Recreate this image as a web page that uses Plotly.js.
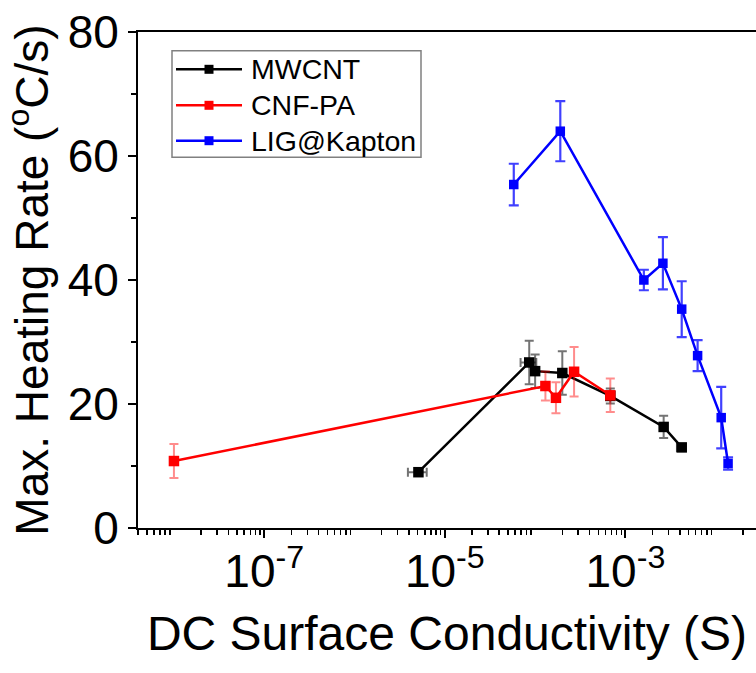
<!DOCTYPE html>
<html>
<head>
<meta charset="utf-8">
<script src="https://cdn.plot.ly/plotly-3.0.1.min.js"></script>
<style>html,body{margin:0;padding:0;background:#fff;}#chart{width:756px;height:673px;}</style>
</head>
<body>
<div id="chart"></div>
<script>
// ---- data ----
const mwcntX    = [5.1e-6, 8.6e-5, 1.0e-4, 2.0e-4, 6.8e-4, 2.65e-3, 4.2e-3];
const mwcntY    = [9.0, 26.7, 25.3, 25.0, 21.3, 16.3, 13.0];
const mwcntYErr = [0.4, 3.5, 2.7, 3.5, 1.2, 1.8, 0.5];
const mwcntXErr = [1.2e-6, 1.7e-5, 0, 0, 5.5e-5, 0, 4.8e-4];

const cnfX    = [1.0e-8, 1.3e-4, 1.7e-4, 2.7e-4, 6.8e-4];
const cnfY    = [10.8, 22.9, 21.0, 25.2, 21.4];
const cnfYErr = [2.75, 2.35, 2.5, 4.0, 2.7];

const ligX    = [5.8e-5, 1.9e-4, 1.6e-3, 2.6e-3, 4.2e-3, 6.3e-3, 1.15e-2, 1.37e-2];
const ligY    = [55.4, 64.0, 40.0, 42.7, 35.3, 27.8, 17.8, 10.4];
const ligYErr = [3.35, 4.85, 1.65, 4.2, 4.5, 2.5, 4.95, 1.0];

const seriesNames  = ['MWCNT', 'CNF-PA', 'LIG@Kapton'];
const seriesColors = ['#000000', '#ff0000', '#0000ff'];
const labeledExp   = [-7, -5, -3];
const labeledText  = ['10<sup>-7</sup>', '10<sup>-5</sup>', '10<sup>-3</sup>'];
const unlabeledExp = [-8, -6, -4, -2];

// ---- tick helpers ----
const xTickVals  = labeledExp.map(e => Math.pow(10, e));
const xTickVals2 = unlabeledExp.map(e => Math.pow(10, e));
const xMinorVals = [];
for (let e = -9; e <= -1; e++) {
  for (let m = 2; m <= 9; m++) xMinorVals.push(m * Math.pow(10, e));
}

const FONT = 'Arial, "Liberation Sans", Helvetica, sans-serif';
const X_RANGE = [-8.398, -1.554];

const traces = [
  {
    x: mwcntX, y: mwcntY, name: seriesNames[0], type: 'scatter', mode: 'lines+markers',
    line: {color: seriesColors[0], width: 2.5},
    marker: {symbol: 'square', size: 10.5, color: seriesColors[0]},
    error_y: {type: 'data', array: mwcntYErr, visible: true, color: 'rgba(0,0,0,0.55)', thickness: 2, width: 4.5},
    error_x: {type: 'data', array: mwcntXErr, visible: true, color: 'rgba(0,0,0,0.55)', thickness: 2, width: 4.5}
  },
  {
    x: cnfX, y: cnfY, name: seriesNames[1], type: 'scatter', mode: 'lines+markers',
    line: {color: seriesColors[1], width: 2.5},
    marker: {symbol: 'square', size: 10.5, color: seriesColors[1]},
    error_y: {type: 'data', array: cnfYErr, visible: true, color: 'rgba(255,0,0,0.45)', thickness: 2, width: 4.5}
  },
  {
    x: ligX, y: ligY, name: seriesNames[2], type: 'scatter', mode: 'lines+markers',
    line: {color: seriesColors[2], width: 2.5},
    marker: {symbol: 'square', size: 9.5, color: seriesColors[2]},
    error_y: {type: 'data', array: ligYErr, visible: true, color: 'rgba(0,0,255,0.75)', thickness: 2.2, width: 5}
  }
];

// ---- custom legend (paper coordinates) ----
const PLOT_L = 138, PLOT_R = 756, PLOT_T = 32, PLOT_B = 528;
const px2x = p => (p - PLOT_L) / (PLOT_R - PLOT_L);
const px2y = p => (PLOT_B - p) / (PLOT_B - PLOT_T);
const legRowsPx = [69.3, 105.3, 140.7];
const shapes = [{
  type: 'rect', xref: 'paper', yref: 'paper', layer: 'below',
  x0: px2x(172), x1: px2x(421), y0: px2y(157.3), y1: px2y(50.7),
  line: {color: '#808080', width: 1.5}, fillcolor: '#ffffff'
}];
const annotations = [];
legRowsPx.forEach((ry, i) => {
  shapes.push({
    type: 'line', xref: 'paper', yref: 'paper',
    x0: px2x(176), x1: px2x(242), y0: px2y(ry), y1: px2y(ry),
    line: {color: seriesColors[i], width: 2.5}
  });
  shapes.push({
    type: 'rect', xref: 'paper', yref: 'paper',
    x0: px2x(204.5), x1: px2x(213.5), y0: px2y(ry + 4.5), y1: px2y(ry - 4.5),
    line: {width: 0}, fillcolor: seriesColors[i]
  });
  annotations.push({
    xref: 'paper', yref: 'paper', x: px2x(249), y: px2y(ry),
    xanchor: 'left', yanchor: 'middle', showarrow: false,
    text: seriesNames[i], font: {family: FONT, size: 28.5, color: '#000000'}
  });
});

const layout = {
  width: 756, height: 673,
  margin: {l: PLOT_L, r: 756 - PLOT_R, t: PLOT_T, b: 673 - PLOT_B, pad: 0},
  paper_bgcolor: '#ffffff', plot_bgcolor: '#ffffff',
  font: {family: FONT, color: '#000000'},
  showlegend: false,
  shapes: shapes,
  annotations: annotations,
  xaxis: {
    type: 'log', range: X_RANGE,
    showline: true, linecolor: '#000000', linewidth: 2, mirror: true,
    showgrid: false, zeroline: false,
    ticks: 'outside', ticklen: 8, tickwidth: 2, tickcolor: '#000000',
    tickmode: 'array', tickvals: xTickVals, ticktext: labeledText,
    tickfont: {family: FONT, size: 46, color: '#000000'},
    ticklabelstandoff: -6,
    minor: {tickmode: 'array', tickvals: xMinorVals, ticks: 'outside', ticklen: 5, tickwidth: 1.5, tickcolor: '#000000', showgrid: false},
    title: {text: 'DC Surface Conductivity (S)', font: {family: FONT, size: 48, color: '#000000'}, standoff: 20},
    automargin: false
  },
  xaxis2: {
    type: 'log', range: X_RANGE, overlaying: 'x', anchor: 'y', side: 'bottom',
    showline: false, showgrid: false, zeroline: false, showticklabels: false,
    ticks: 'outside', ticklen: 8, tickwidth: 2, tickcolor: '#000000',
    tickmode: 'array', tickvals: xTickVals2
  },
  yaxis: {
    range: [0, 80],
    showline: true, linecolor: '#000000', linewidth: 2, mirror: false,
    showgrid: false, zeroline: false,
    ticks: 'outside', ticklen: 8, tickwidth: 2, tickcolor: '#000000',
    tickmode: 'linear', tick0: 0, dtick: 20,
    tickfont: {family: FONT, size: 46, color: '#000000'},
    minor: {tickmode: 'linear', tick0: 0, dtick: 10, ticks: 'outside', ticklen: 5, tickwidth: 1.5, tickcolor: '#000000', showgrid: false},
    title: {text: 'Max. Heating Rate (<sup>o</sup>C/s)', font: {family: FONT, size: 46, color: '#000000'}, standoff: 9},
    automargin: false
  }
};

Plotly.newPlot('chart', traces, layout, {displayModeBar: false, staticPlot: true});
</script>
</body>
</html>
